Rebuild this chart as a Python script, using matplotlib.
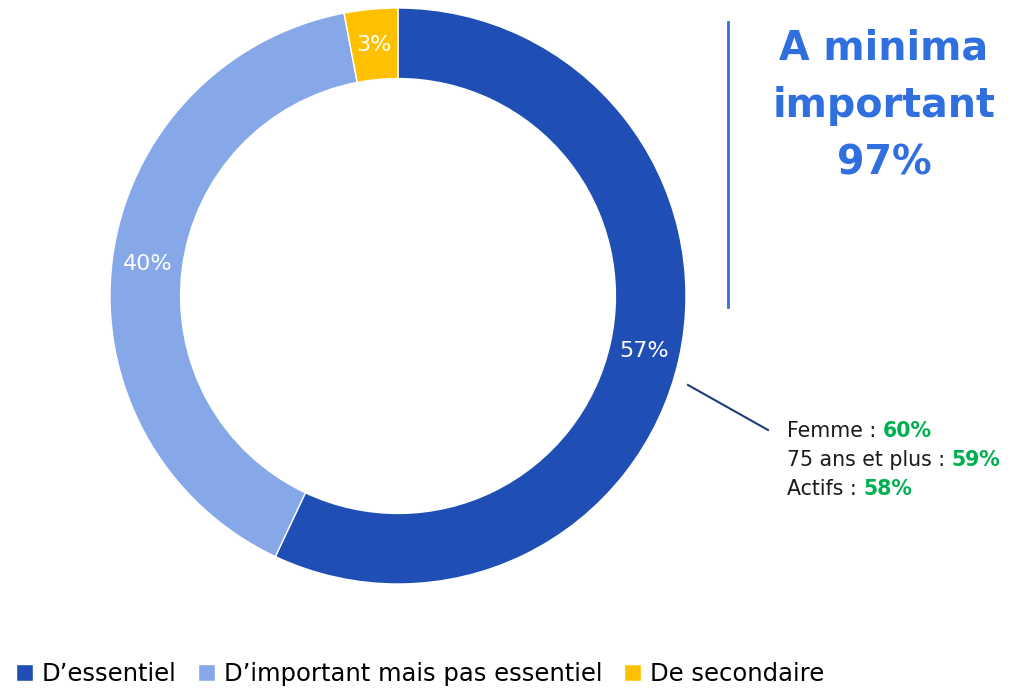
import matplotlib
matplotlib.use("Agg")
import matplotlib.pyplot as plt

# data
labels = ["D\u2019essentiel", "D\u2019important mais pas essentiel", "De secondaire"]
values = [57, 40, 3]
colors = ["#1F4EB4", "#86A8E8", "#FFC000"]
title_lines = "A minima\nimportant\n97%"
detail_names = ["Femme : ", "75 ans et plus : ", "Actifs : "]
detail_vals = ["60%", "59%", "58%"]

plt.rcParams['font.family'] = ['DejaVu Sans']

W, H = 1015, 689
fig = plt.figure(figsize=(W / 100, H / 100), dpi=100)

# donut axes: centre (398, 296) px from top, radius 288 px
cx, cy, r = 398, H - 296, 288
ax = fig.add_axes([(cx - r) / W, (cy - r) / H, 2 * r / W, 2 * r / H])
wedges, texts, autotexts = ax.pie(values, colors=colors, startangle=90, counterclock=False,
                                  radius=1, wedgeprops=dict(width=0.245, edgecolor="white", linewidth=1),
                                  autopct=lambda p: "%d%%" % round(p), pctdistance=0.877,
                                  textprops=dict(color="white", fontsize=16))
ax.set_xlim(-1, 1)
ax.set_ylim(-1, 1)
ax.set_aspect("equal")
ax.axis("off")

# headline on the right
fig.text(884 / W, 1 - 106 / H, title_lines, ha="center", va="center", color="#2F6FDE",
         fontsize=28.5, fontweight="bold", linespacing=1.55)
fig.add_artist(plt.Line2D([728 / W, 728 / W], [1 - 22 / H, 1 - 307 / H], color="#2F6FDE", lw=2))

# callout line
fig.add_artist(plt.Line2D([688 / W, 768 / W], [1 - 385 / H, 1 - 430 / H], color="#1F3A7A", lw=1.5))

fig.canvas.draw()
renderer = fig.canvas.get_renderer()
y0 = 431
for i, (name, val) in enumerate(zip(detail_names, detail_vals)):
    y = 1 - (y0 + 29 * i) / H
    t = fig.text(787 / W, y, name, ha="left", va="center", color="#1a1a1a", fontsize=14.8)
    bb = t.get_window_extent(renderer)
    fig.text(bb.x1 / W, y, val, ha="left", va="center", color="#00B050", fontsize=14.8, fontweight="bold")

fig.legend(wedges, labels, loc="center left", bbox_to_anchor=(0.016, 1 - 674 / H), ncol=3, frameon=False,
           fontsize=17.5, handlelength=0.7, handleheight=0.7, handletextpad=0.35, columnspacing=0.9,
           borderaxespad=0, borderpad=0)

fig.savefig("out.png", dpi=100)
